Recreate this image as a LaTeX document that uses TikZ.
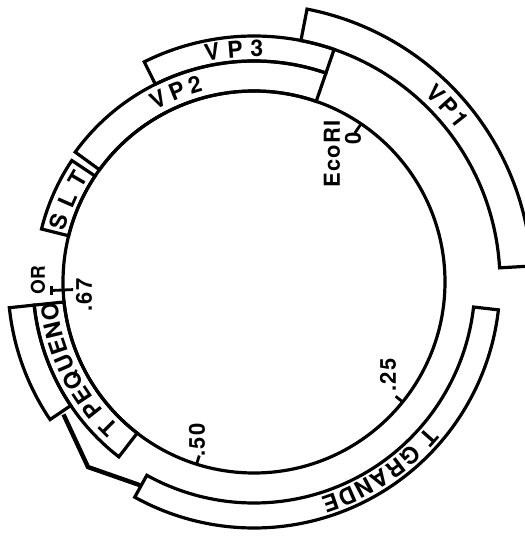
\documentclass[tikz,border=0pt]{standalone}
\usepackage{fontspec}
\setmainfont{TeX Gyre Heros}
\usetikzlibrary{decorations.text}
\newcommand\bandfont{\fontsize{23}{23}\selectfont\bfseries}
\begin{document}
\begin{tikzpicture}[x=1pt,y=1pt,
  band/.style={draw=black, line width=3.2pt, line join=miter},
  ring/.style={draw=black, line width=3.2pt},
  tickline/.style={line width=2.8pt},
  splice/.style={line width=4.4pt, line join=miter},
  arctext/.style={decorate, decoration={text along path, text={|\bandfont|#1}, text align={fit to path}}},
  maplbl/.style={font=\fontsize{22}{22}\selectfont\bfseries\addfontfeature{LetterSpace=5}, inner sep=0pt, rotate=90},
  smallmaplbl/.style={font=\fontsize{19}{19}\selectfont\bfseries, inner sep=0pt, rotate=90}]
\useasboundingbox (-254,-254) rectangle (271,282);
\clip (-254,-254) rectangle (271,282);
\def\ra{191}\def\rb{221}\def\rc{246}\def\rd{278}
\coordinate (O) at (0,0);
% inner genome circle
\draw[ring] (O) circle[radius=\ra];
% VP1
\draw[band] (3.3:\rc) arc[start angle=3.3,end angle=79,radius=\rc] -- (79:\rd) arc[start angle=79,end angle=3.3,radius=\rd] -- cycle;
% VP3
\draw[band] (71:\rb) arc[start angle=71,end angle=116.5,radius=\rb] -- (116.5:\rc) arc[start angle=116.5,end angle=71,radius=\rc] -- cycle;
% VP2
\draw[band] (71:\ra) arc[start angle=71,end angle=144,radius=\ra] -- (144:\rb) arc[start angle=144,end angle=71,radius=\rb] -- cycle;
% SLT
\draw[band] (146.3:\ra) arc[start angle=146.3,end angle=166,radius=\ra] -- (166:219) arc[start angle=166,end angle=146.3,radius=219] -- cycle;
% T PEQUENO
\draw[band] (186:\ra) arc[start angle=186,end angle=232.3,radius=\ra] -- (232.3:\rb) arc[start angle=232.3,end angle=186,radius=\rb] -- cycle;
% outer blank box
\draw[band] (186:\rb) arc[start angle=186,end angle=214,radius=\rb] -- (214:\rc) arc[start angle=214,end angle=186,radius=\rc] -- cycle;
% T GRANDE
\draw[band] (-119:\rb) arc[start angle=-119,end angle=-6.5,radius=\rb] -- (-6.5:\rc) arc[start angle=-6.5,end angle=-119,radius=\rc] -- cycle;
% splice line
\coordinate (sa) at (214.8:232);
\coordinate (sb) at (228.1:248.6);
\coordinate (sc) at (240.7:233);
\draw[splice] (sa) -- (sb) -- (sc);
% ticks
\draw[tickline] (55.9:\ra) -- (55.9:180);
\draw[tickline] (-38.9:\ra) -- (-38.9:182);
\draw[tickline] (252.5:\ra) -- (252.5:182);
\draw[tickline] (182.4:181) -- (182.4:203);
\draw[tickline] (-202.8,-3.5) -- (-202.8,-13);
% band labels (read clockwise, tops outward)
\path[arctext=VP1] (47.7:253.7) arc[start angle=47.7,end angle=36.8,radius=253.7];
\path[arctext=VP3] (102.25:225.3) arc[start angle=102.25,end angle=87.67,radius=225.3];
\path[arctext=VP2] (119.8:197.7) arc[start angle=119.8,end angle=104.85,radius=197.7];
\path[arctext=SLT] (165.05:195.7) arc[start angle=165.05,end angle=147.84,radius=195.7];
\path[arctext={T PEQUENO}] (227.04:197.7) arc[start angle=227.04,end angle=185.6,radius=197.7];
\path[arctext={T GRANDE}] (-39.81:225.3) arc[start angle=-39.81,end angle=-72.8,radius=225.3];
% map labels
\node[maplbl] (eco) at (78,128) {EcoRI};
\node[maplbl] (zero) at (99,144) {0};
\node[maplbl] (q25) at (134,-93) {.25};
\node[maplbl] (q50) at (-57,-158) {.50};
\node[maplbl] (q67) at (-170,-13) {.67};
\node[smallmaplbl] (orlbl) at (-216,2) {OR};
\end{tikzpicture}
\end{document}
